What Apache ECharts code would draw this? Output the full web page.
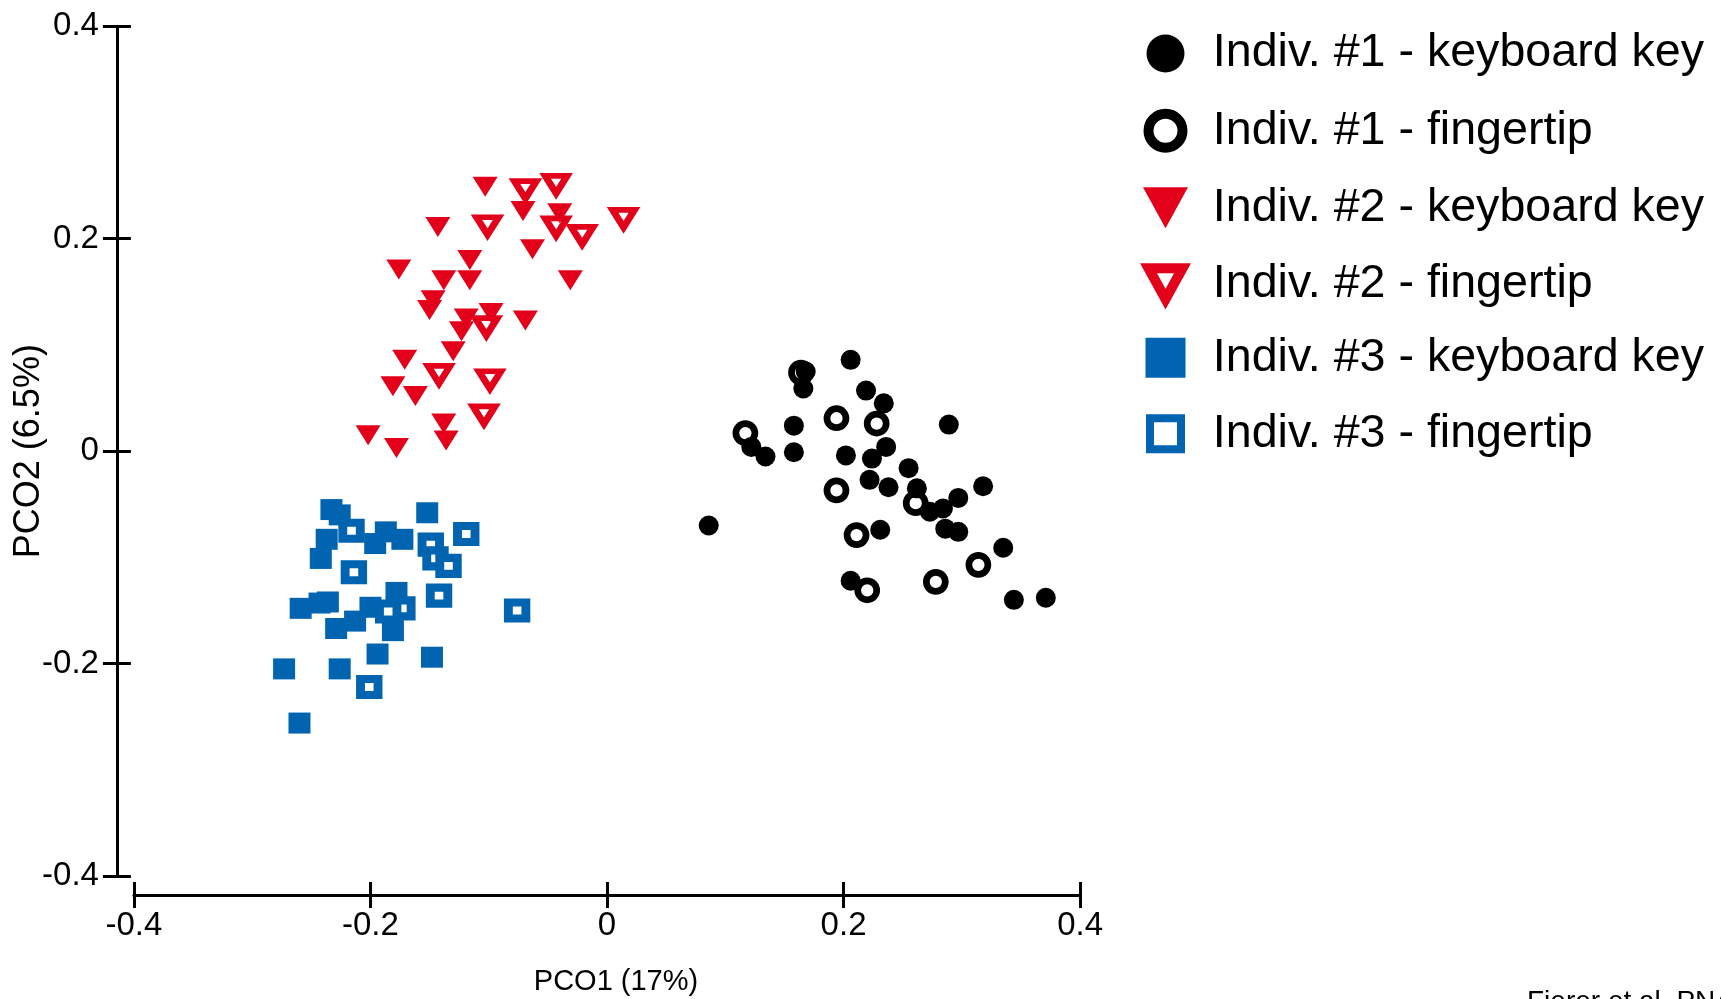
<!DOCTYPE html>
<html>
<head>
<meta charset="utf-8">
<title>PCO plot</title>
<script src="https://cdn.jsdelivr.net/npm/echarts@6/dist/echarts.min.js"></script>
<style>
  html, body { margin: 0; padding: 0; background: #fff; }
  #chart { width: 1721px; height: 999px; }
</style>
</head>
<body>
<div id="chart"></div>
<script>
// PCO scores, each point is [PCO1, PCO2]
const indiv1Key = [
  [0.206, 0.086], [0.168, 0.075], [0.166, 0.059], [0.219, 0.057], [0.234, 0.045],
  [0.158, 0.024], [0.289, 0.025], [0.122, 0.004], [0.134, -0.005], [0.158, -0.001],
  [0.202, -0.004], [0.224, -0.007], [0.236, 0.004], [0.255, -0.016], [0.222, -0.027],
  [0.238, -0.034], [0.262, -0.035], [0.318, -0.033], [0.297, -0.044], [0.284, -0.054],
  [0.273, -0.057], [0.286, -0.073], [0.297, -0.076], [0.086, -0.070], [0.231, -0.074],
  [0.335, -0.091], [0.206, -0.122], [0.344, -0.140], [0.371, -0.138]
];
const indiv1Finger = [
  [0.164, 0.074], [0.117, 0.017], [0.194, 0.031], [0.228, 0.026], [0.194, -0.037],
  [0.261, -0.049], [0.211, -0.079], [0.220, -0.131], [0.278, -0.123], [0.314, -0.107]
];
const indiv2Key = [
  [-0.103, 0.249], [-0.143, 0.211], [-0.071, 0.226], [-0.040, 0.224], [-0.063, 0.190],
  [-0.176, 0.171], [-0.116, 0.180], [-0.138, 0.161], [-0.116, 0.161], [-0.031, 0.161],
  [-0.147, 0.142], [-0.150, 0.133], [-0.119, 0.125], [-0.098, 0.130], [-0.069, 0.123],
  [-0.123, 0.113], [-0.130, 0.094], [-0.171, 0.086], [-0.181, 0.061], [-0.162, 0.052],
  [-0.138, 0.026], [-0.136, 0.010], [-0.202, 0.015], [-0.178, 0.003]
];
const indiv2Finger = [
  [-0.069, 0.246], [-0.043, 0.251], [-0.101, 0.212], [-0.043, 0.211], [-0.021, 0.203],
  [0.014, 0.219], [-0.102, 0.117], [-0.142, 0.072], [-0.099, 0.067], [-0.104, 0.034]
];
const indiv3Key = [
  [-0.233, -0.055], [-0.226, -0.060], [-0.152, -0.058], [-0.237, -0.083], [-0.187, -0.076],
  [-0.196, -0.087], [-0.173, -0.083], [-0.242, -0.101], [-0.178, -0.133], [-0.259, -0.148],
  [-0.243, -0.143], [-0.236, -0.142], [-0.200, -0.147], [-0.213, -0.160], [-0.229, -0.167],
  [-0.181, -0.169], [-0.194, -0.191], [-0.148, -0.194], [-0.273, -0.205], [-0.226, -0.205],
  [-0.260, -0.256]
];
const indiv3Finger = [
  [-0.216, -0.075], [-0.119, -0.078], [-0.149, -0.088], [-0.145, -0.101], [-0.134, -0.108],
  [-0.214, -0.114], [-0.142, -0.136], [-0.076, -0.150], [-0.173, -0.148], [-0.185, -0.151],
  [-0.201, -0.222]
];

const seriesNames = [
  'Indiv. #1 - keyboard key', 'Indiv. #1 - fingertip',
  'Indiv. #2 - keyboard key', 'Indiv. #2 - fingertip',
  'Indiv. #3 - keyboard key', 'Indiv. #3 - fingertip'
];
const axisMin = -0.4;
const axisMax = 0.4;
const axisStep = 0.2;

const FONT = '"Liberation Sans", Arial, sans-serif';
const BLACK = '#000000';
const RED = '#e2001a';
const BLUE = '#0064b0';
const TRI_DOWN = 'path://M0,0 L45,0 L22.5,41 Z';
const SQUARE = 'path://M0,0 L40,0 L40,40 L0,40 Z';

const chart = echarts.init(document.getElementById('chart'));

// shared bits for the detached x / y axes (ticks cross the axis line,
// so each axis is drawn twice: once with outside ticks, once with inside ticks)
function valueAxis(extra) {
  return Object.assign({
    type: 'value',
    min: axisMin,
    max: axisMax,
    interval: axisStep,
    splitLine: { show: false },
    axisLine: { onZero: false, lineStyle: { color: BLACK, width: 3 } },
    axisTick: { length: 13, lineStyle: { color: BLACK, width: 3 } },
    axisLabel: { fontSize: 33, color: BLACK, fontFamily: FONT }
  }, extra);
}

// one legend per row so every marker gets its own size.
// ECharts aligns the legend's bounding box (not the icon box) to left/top,
// so halfW is the drawn half width of the marker incl. its border,
// and the text line (as tall as the font size) sets the top edge.
const LEGEND_X = 1165.5;
const LEGEND_TEXT_X = 1212.8;
const LEGEND_FONT = 46.6;
function legendRow(name, centerY, size, halfW, icon, itemStyle) {
  const itemWidth = 2 * (LEGEND_TEXT_X - LEGEND_X - 5);
  return {
    orient: 'vertical',
    left: LEGEND_X - halfW,
    top: centerY - LEGEND_FONT / 2,
    padding: 0,
    itemGap: 0,
    itemWidth: itemWidth,
    itemHeight: size,
    selectedMode: false,
    textStyle: { fontSize: LEGEND_FONT, color: BLACK, fontFamily: FONT },
    data: [{ name: name, icon: icon, itemStyle: itemStyle }]
  };
}

const option = {
  animation: false,
  backgroundColor: '#ffffff',
  grid: {
    left: 133.9,
    right: 640.9,
    top: 26.3,
    bottom: 123,
    containLabel: false,
    outerBoundsMode: 'none'
  },
  xAxis: [
    valueAxis({
      position: 'bottom',
      offset: 19,
      axisLabel: { fontSize: 33, color: BLACK, fontFamily: FONT, margin: 14 },
      name: 'PCO1 (17%)',
      nameLocation: 'middle',
      nameGap: 72,
      nameMoveOverlap: false,
      nameTextStyle: { fontSize: 29, color: BLACK, fontFamily: FONT, padding: [0, 0, 0, 18] }
    }),
    valueAxis({
      position: 'bottom',
      offset: 19,
      axisLine: { show: false, onZero: false },
      axisTick: { inside: true, length: 13, lineStyle: { color: BLACK, width: 3 } },
      axisLabel: { show: false }
    })
  ],
  yAxis: [
    valueAxis({
      position: 'left',
      offset: 17,
      axisTick: { length: 14, lineStyle: { color: BLACK, width: 3 } },
      axisLabel: { fontSize: 33, color: BLACK, fontFamily: FONT, margin: 18 },
      name: 'PCO2 (6.5%)',
      nameLocation: 'middle',
      nameGap: 70,
      nameMoveOverlap: false,
      nameTextStyle: { fontSize: 36, color: BLACK, fontFamily: FONT }
    }),
    valueAxis({
      position: 'left',
      offset: 17,
      axisLine: { show: false, onZero: false },
      axisTick: { inside: true, length: 14, lineStyle: { color: BLACK, width: 3 } },
      axisLabel: { show: false }
    })
  ],
  legend: [
    legendRow(seriesNames[0], 53.3, 38, 19, 'circle', { color: BLACK, borderWidth: 0 }),
    legendRow(seriesNames[1], 130.5, 34, 22, 'circle', { color: '#fff', borderColor: BLACK, borderWidth: 10 }),
    legendRow(seriesNames[2], 207.5, 41, 22.5, TRI_DOWN, { color: RED, borderWidth: 0 }),
    legendRow(seriesNames[3], 283.5, 31, 22, TRI_DOWN, { color: '#fff', borderColor: RED, borderWidth: 10 }),
    legendRow(seriesNames[4], 357.5, 40, 20, SQUARE, { color: BLUE, borderWidth: 0 }),
    legendRow(seriesNames[5], 433.5, 31, 19.5, SQUARE, { color: '#fff', borderColor: BLUE, borderWidth: 8 })
  ],
  graphic: [
    {
      type: 'text',
      left: 1527,
      top: 988,
      silent: true,
      style: { text: 'Fierer et al. PNAS', fontSize: 28, fill: BLACK, font: '28px ' + FONT }
    }
  ],
  series: [
    {
      name: seriesNames[1], type: 'scatter', data: indiv1Finger, z: 2,
      symbol: 'circle', symbolSize: 19,
      itemStyle: { color: '#fff', borderColor: BLACK, borderWidth: 6.7, opacity: 1 }
    },
    {
      name: seriesNames[0], type: 'scatter', data: indiv1Key, z: 3,
      symbol: 'circle', symbolSize: 20,
      itemStyle: { color: BLACK, opacity: 1 }
    },
    {
      name: seriesNames[3], type: 'scatter', data: indiv2Finger, z: 2,
      symbol: TRI_DOWN, symbolSize: [22, 17.5],
      itemStyle: { color: '#fff', borderColor: RED, borderWidth: 6.4, borderJoin: 'miter', borderMiterLimit: 10, opacity: 1 }
    },
    {
      name: seriesNames[2], type: 'scatter', data: indiv2Key, z: 3,
      symbol: TRI_DOWN, symbolSize: [25, 20],
      itemStyle: { color: RED, opacity: 1 }
    },
    {
      name: seriesNames[5], type: 'scatter', data: indiv3Finger, z: 2,
      symbol: 'rect', symbolSize: [17.5, 16],
      itemStyle: { color: '#fff', borderColor: BLUE, borderWidth: 8.5, borderJoin: 'miter', opacity: 1 }
    },
    {
      name: seriesNames[4], type: 'scatter', data: indiv3Key, z: 3,
      symbol: 'rect', symbolSize: [22, 21],
      itemStyle: { color: BLUE, opacity: 1 }
    }
  ]
};

chart.setOption(option);
</script>
</body>
</html>
